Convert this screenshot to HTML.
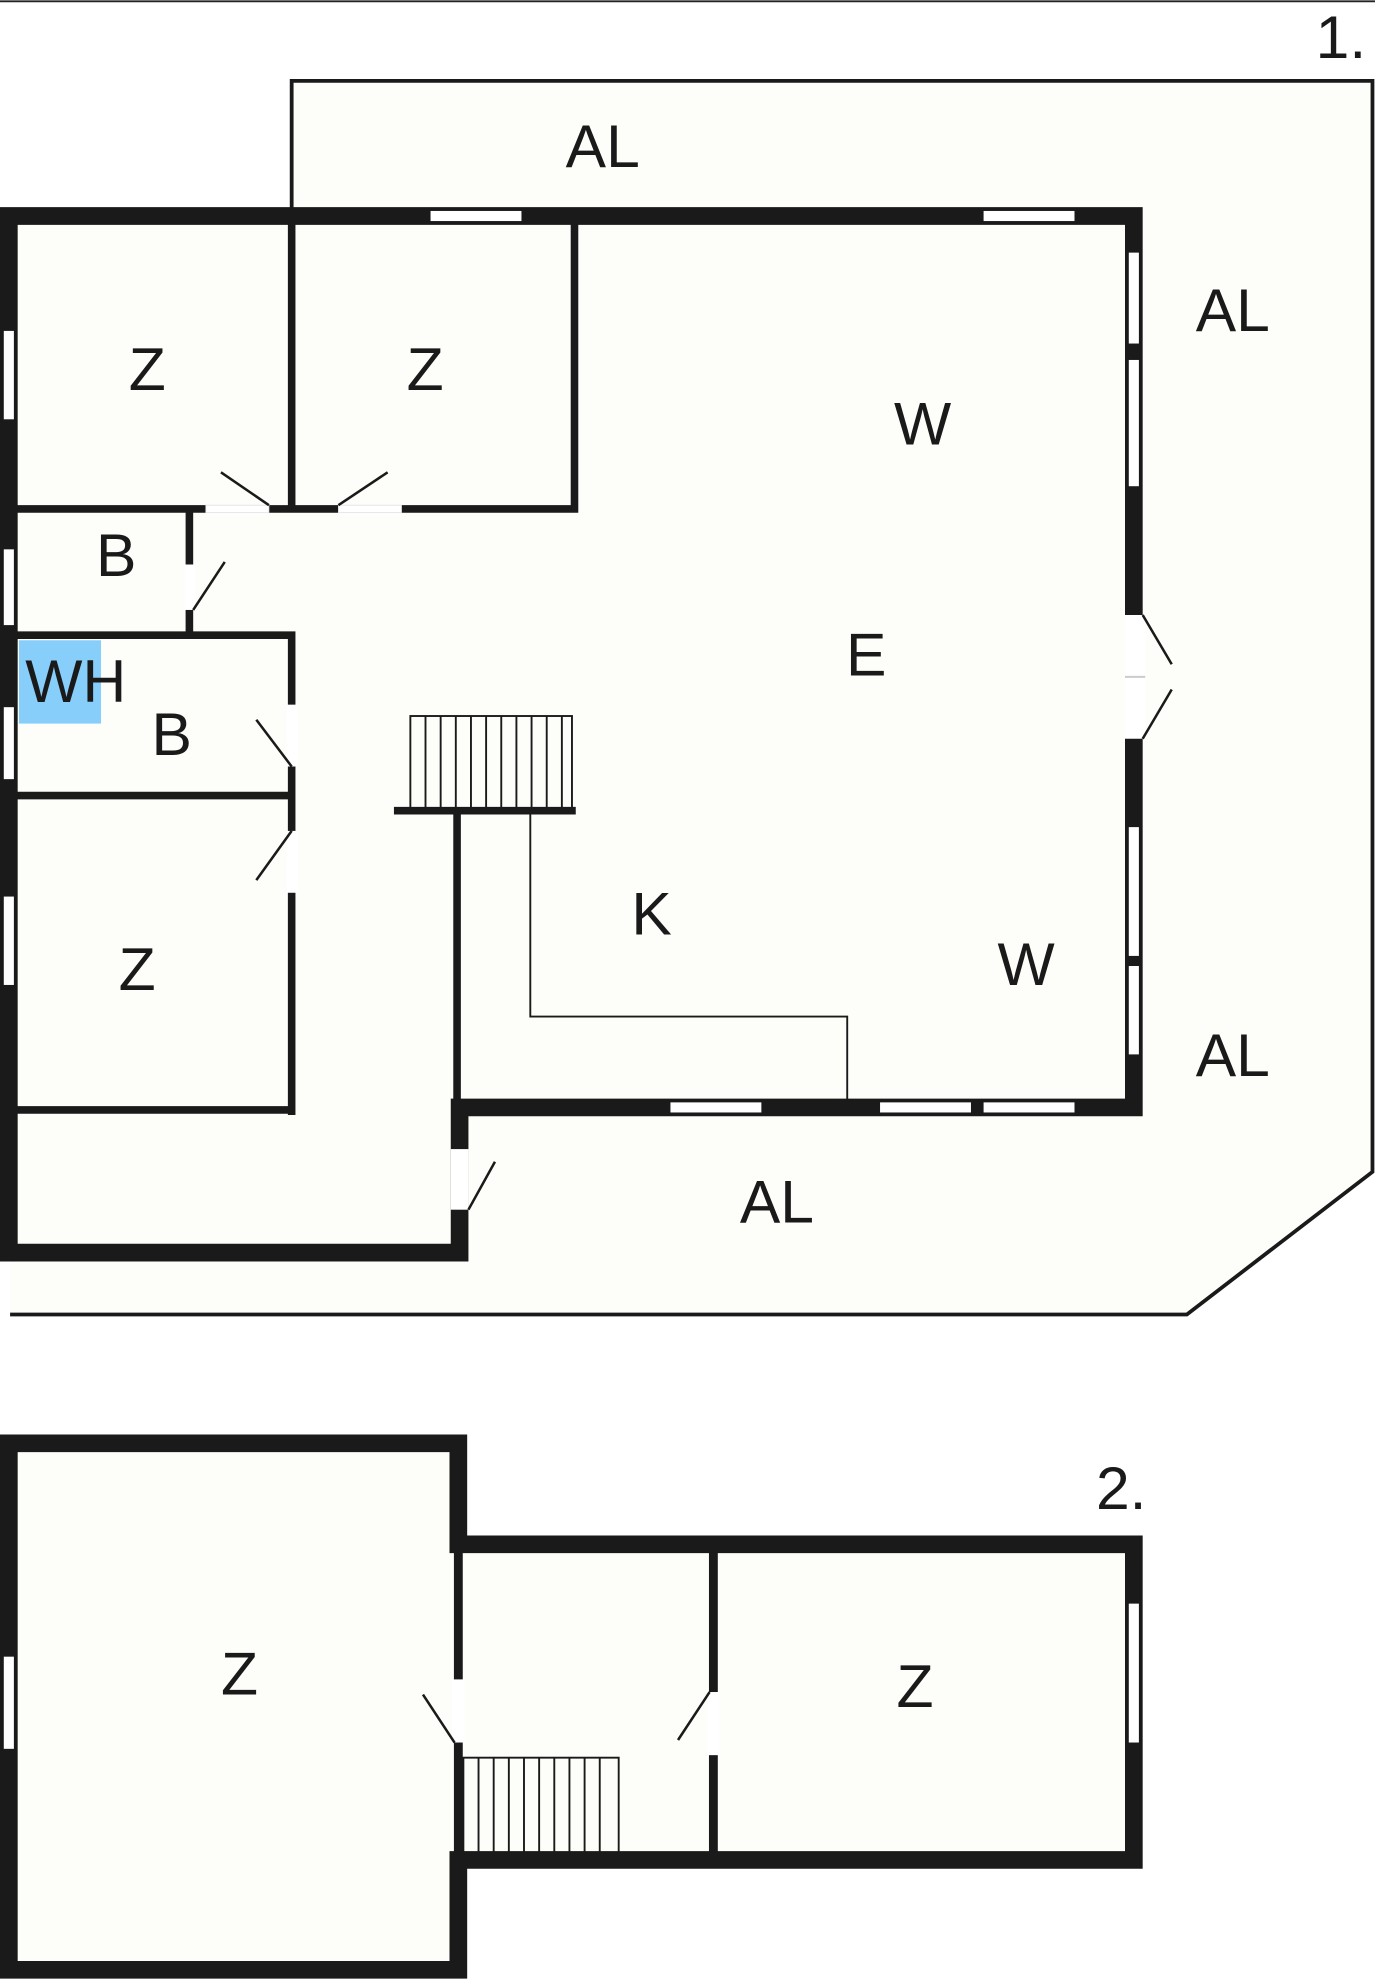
<!DOCTYPE html>
<html><head><meta charset="utf-8"><style>html,body{margin:0;padding:0;background:#fff}svg{display:block}text{font-family:"Liberation Sans",sans-serif;font-size:48px;fill:#1a1a1a}</style></head>
<body>
<svg width="1375" height="1980" viewBox="0 0 1089 1568" xmlns="http://www.w3.org/2000/svg">
<rect width="1089" height="1568" fill="#fff"/>
<line x1="0" y1="1" x2="1089" y2="1" stroke="#222" stroke-width="1.5"/>
<text x="1042" y="46" font-size="44">1.</text>
<!-- AL outline -->
<polygon points="231,165 231,64 1087,64 1087,928 940,1041 8,1041 8,992 231,992" fill="#fdfdf9"/>
<path d="M231,165 V64 H1087 V928 L940,1041 H8" fill="none" stroke="#1a1a1a" stroke-width="3"/>
<!-- building floor -->
<polygon points="0,171 905,171 905,884 370,884 370,999 0,999" fill="#fdfdf9"/>
<g fill="none" stroke="#1a1a1a" stroke-linecap="square">
<path d="M7,171 H898 V877 H364 V992 H7 Z" stroke-width="14"/>
<path d="M231,171 V403 M7,403 H455 V171 M150,403 V500 M7,503 H231 V880 M7,630 H231 M7,879 H231" stroke-width="6"/>
<path d="M315,642 H453 M362,642 V877" stroke-width="6"/>
</g>
<!-- windows / openings -->
<g fill="#fff">
<rect x="341" y="167" width="72" height="8"/><rect x="779" y="167" width="72" height="8"/>
<rect x="894" y="200" width="8" height="72"/><rect x="894" y="285" width="8" height="100"/>
<rect x="894" y="655" width="8" height="102"/><rect x="894" y="765" width="8" height="70"/>
<rect x="531" y="873" width="72" height="8"/><rect x="697" y="873" width="72" height="8"/><rect x="779" y="873" width="72" height="8"/>
<rect x="3" y="262" width="8" height="70"/><rect x="3" y="435" width="8" height="60"/>
<rect x="3" y="560" width="8" height="57"/><rect x="3" y="710" width="8" height="70"/>
<rect x="891" y="487" width="16" height="98"/>
<rect x="163" y="399" width="50" height="9"/><rect x="268" y="399" width="50" height="9"/>
<rect x="146" y="447" width="9" height="36"/>
<rect x="227" y="558" width="9" height="49"/><rect x="227" y="658" width="9" height="49"/>
<rect x="357" y="910" width="14" height="48"/>
</g>
<g stroke="#1a1a1a" stroke-width="1.5" fill="none">
<rect x="163" y="400" width="50" height="6" stroke="#ddd" stroke-width="0.6"/>
<rect x="268" y="400" width="50" height="6" stroke="#ddd" stroke-width="0.6"/>
<line x1="175" y1="374" x2="213" y2="400" stroke-width="2"/>
<line x1="307" y1="374" x2="268" y2="400" stroke-width="2"/>
<line x1="153" y1="483" x2="178" y2="445" stroke-width="2"/>
<line x1="231" y1="607" x2="203" y2="570" stroke-width="2"/>
<line x1="231" y1="658" x2="203" y2="697" stroke-width="2"/>
<line x1="371" y1="958" x2="392" y2="920" stroke-width="2"/>
<line x1="905" y1="487" x2="928" y2="526" stroke-width="2"/>
<line x1="905" y1="585" x2="928" y2="546" stroke-width="2"/>
<line x1="891" y1="536" x2="907" y2="536" stroke="#ccc"/>
<!-- stairs -->
<rect x="325" y="567" width="128" height="73"/>
<path d="M337,567V640M349,567V640M361,567V640M373,567V640M385,567V640M397,567V640M409,567V640M421,567V640M433,567V640M445,567V640"/>
<path d="M420,645 V805 H671 V877" stroke-width="1.5"/>
</g>
<rect x="15" y="507" width="65" height="66" fill="#87cefa"/>
<text x="20" y="556">WH</text>
<text x="448" y="132">AL</text><text x="947" y="262">AL</text><text x="947" y="852">AL</text><text x="586" y="968">AL</text>
<text x="102" y="309">Z</text><text x="322" y="309">Z</text><text x="94" y="784">Z</text>
<text x="76" y="456">B</text><text x="120" y="598">B</text>
<text x="708" y="352">W</text><text x="670" y="535">E</text><text x="500" y="740">K</text><text x="790" y="780">W</text>
<!-- floor 2 -->
<text x="868" y="1195" font-size="44">2.</text>
<polygon points="0,1136 370,1136 370,1216 905,1216 905,1480 370,1480 370,1567 0,1567" fill="#fdfdf9"/>
<g fill="none" stroke="#1a1a1a" stroke-linecap="square">
<path d="M7,1143 H363 V1223 H898 V1473 H363 V1560 H7 Z" stroke-width="14"/>
<path d="M363,1223 V1467 M565,1230 V1467" stroke-width="7"/>
</g>
<g fill="#fff">
<rect x="3" y="1312" width="8" height="73"/><rect x="894" y="1270" width="8" height="110"/>
<rect x="358" y="1330" width="10" height="50"/><rect x="560" y="1340" width="10" height="50"/>
</g>
<g stroke="#1a1a1a" stroke-width="1.5" fill="none">
<line x1="360" y1="1380" x2="335" y2="1342" stroke-width="2"/>
<line x1="562" y1="1340" x2="537" y2="1378" stroke-width="2"/>
<rect x="367" y="1392" width="123" height="75"/>
<path d="M379,1392V1467M391,1392V1467M403,1392V1467M415,1392V1467M427,1392V1467M439,1392V1467M451,1392V1467M463,1392V1467M475,1392V1467"/>
</g>
<text x="175" y="1342">Z</text><text x="710" y="1352">Z</text>
</svg>
</body></html>
